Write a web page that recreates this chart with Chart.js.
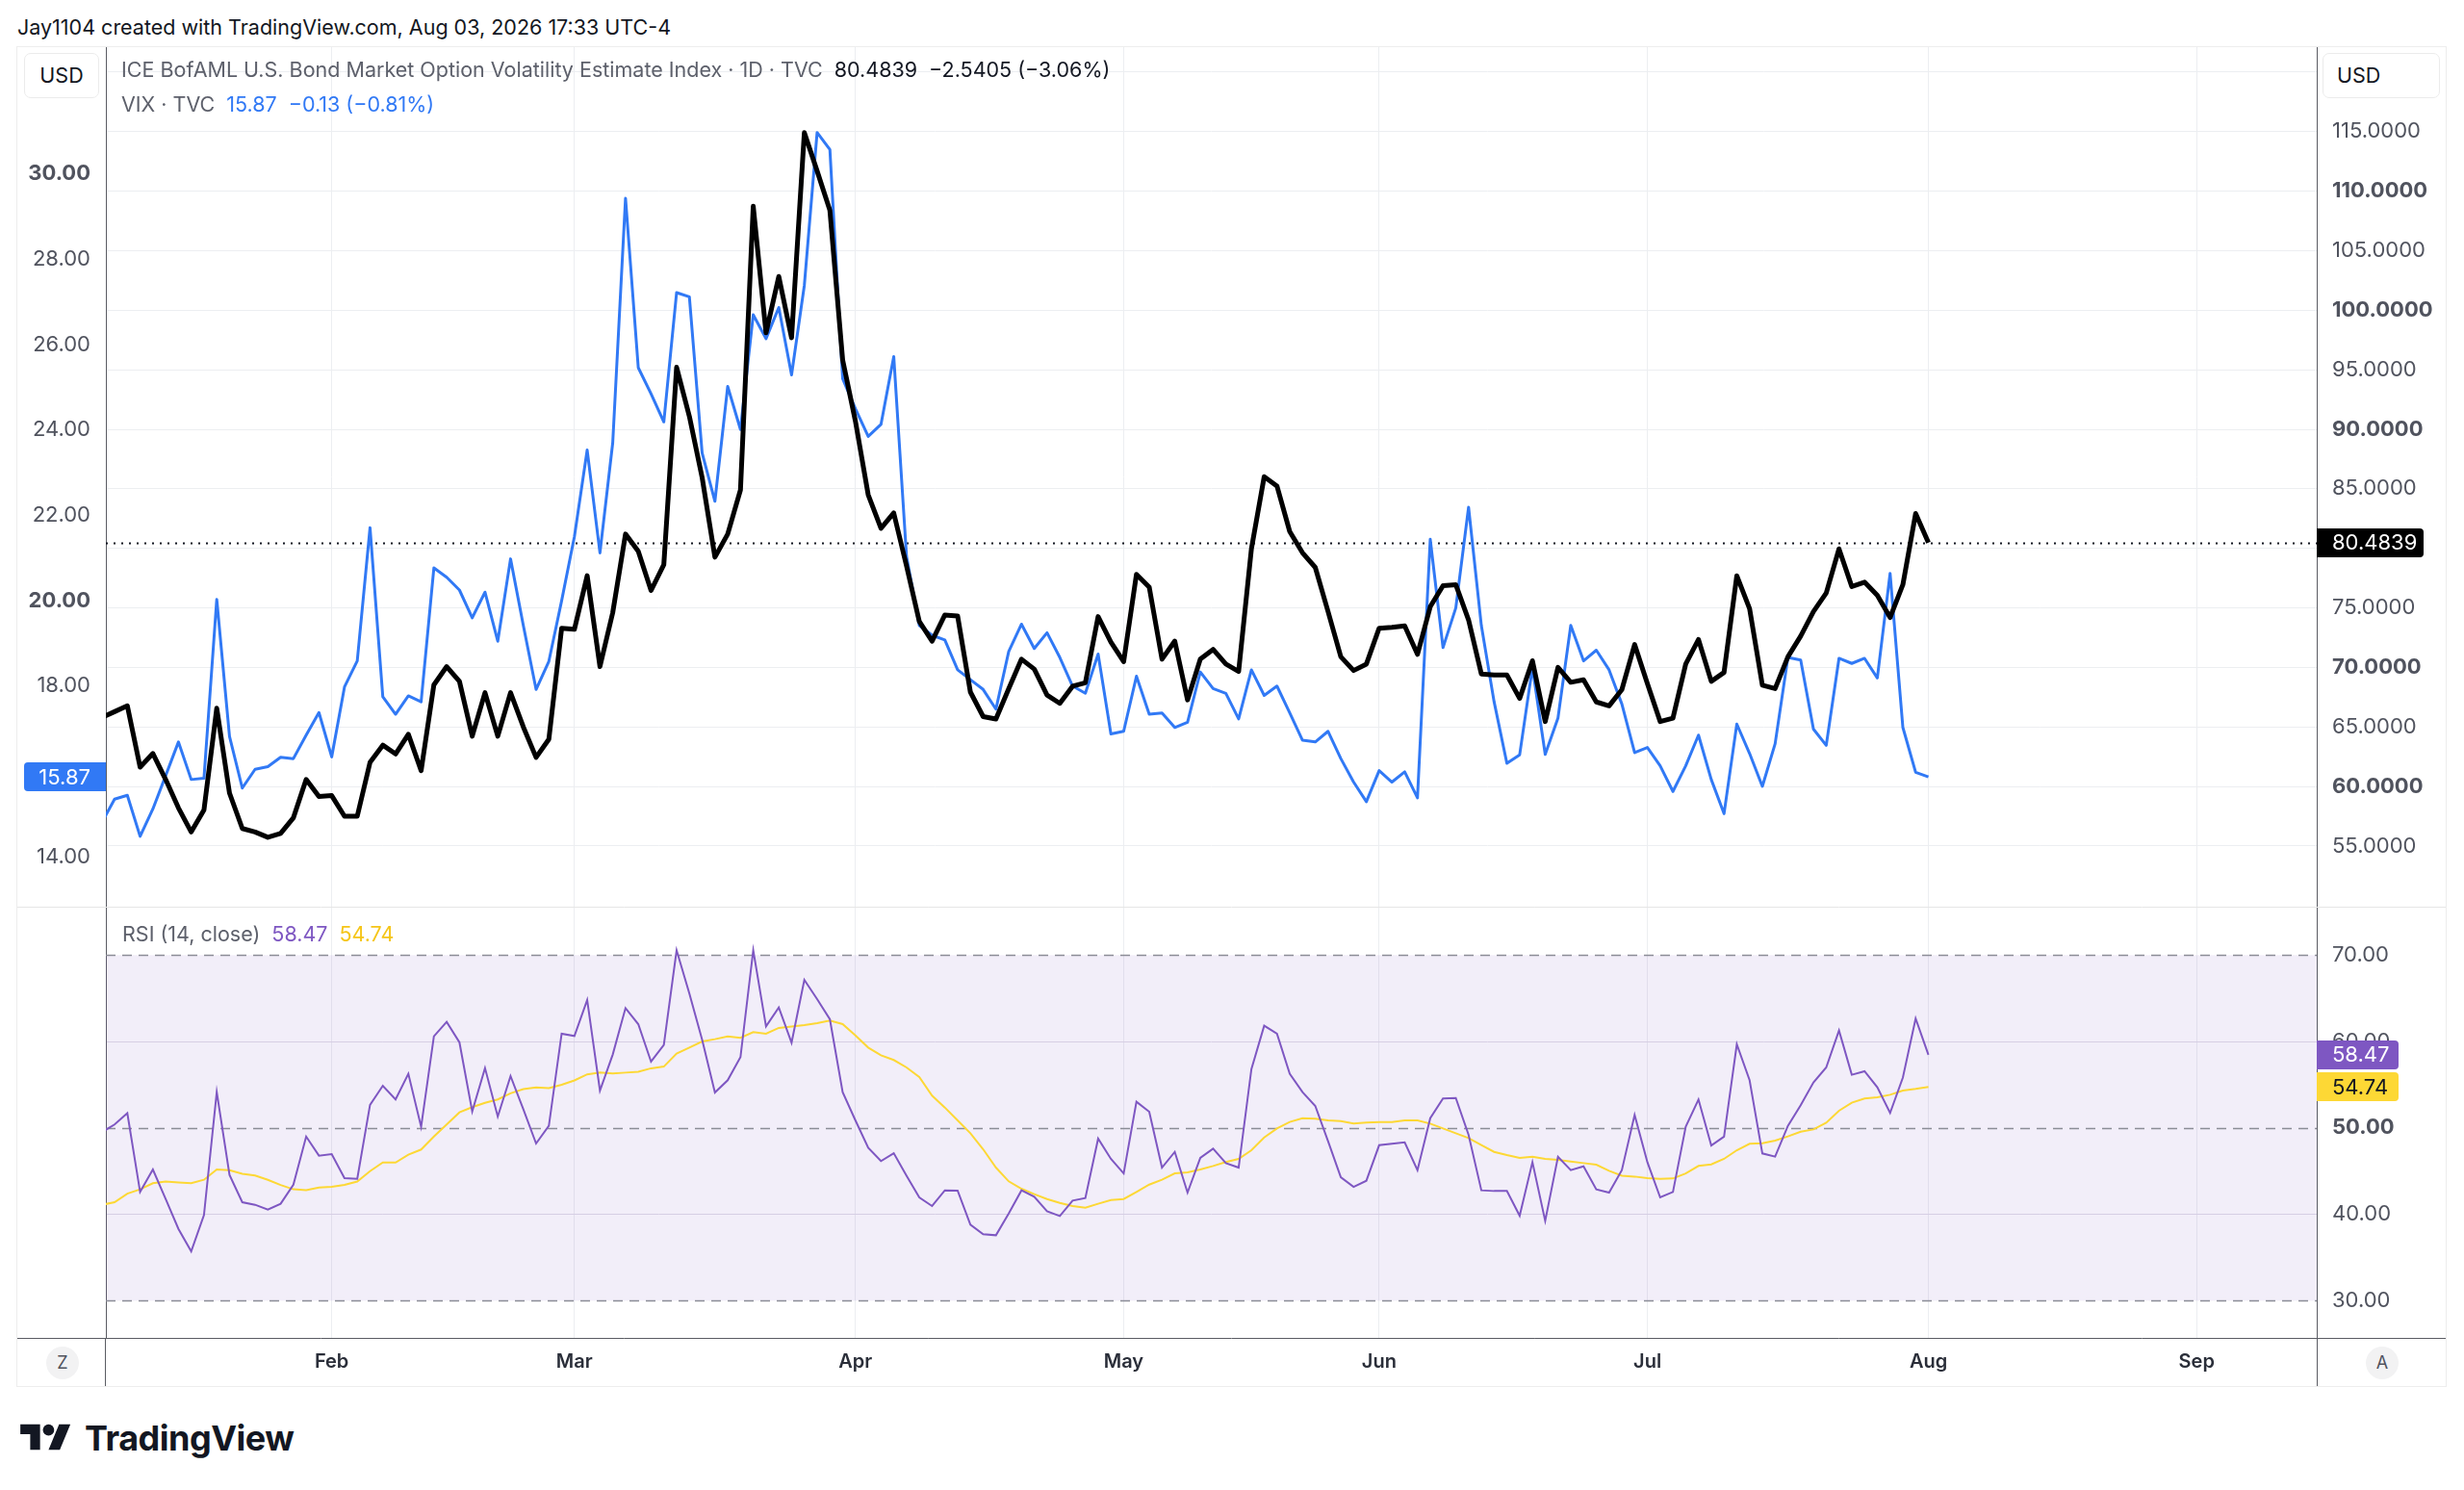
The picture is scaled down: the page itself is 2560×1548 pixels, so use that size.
<!DOCTYPE html>
<html>
<head>
<meta charset="utf-8">
<script src="https://cdn.jsdelivr.net/npm/chart.js@4.4.1/dist/chart.umd.min.js"></script>
<style>
  html, body { margin: 0; padding: 0; background: #fff; }
  body { width: 2560px; height: 1548px; position: relative; overflow: hidden; font-family: Inter, "Noto Sans", sans-serif; color: #131722; }
  .abs { position: absolute; white-space: nowrap; }
  #frame { left: 17px; top: 48px; width: 2525px; height: 1393px; border: 1px solid #ededed; box-sizing: border-box; }
  #cMain { left: 18px; top: 49px; }
  #cRsi { left: 18px; top: 942px; }
  .usd { height: 47px; border: 1px solid #ebebeb; border-radius: 7px; box-sizing: border-box; font-size: 21.5px; line-height: 45px; text-align: center; background: #fff; color: #131722; }
  .leg { font-size: 21.5px; line-height: 28px; color: #5d606b; }
  .leg span { margin-left: 12px; }
  .circ { width: 34px; height: 34px; border-radius: 50%; background: #f2f2f3; color: #50535e; font-size: 18px; line-height: 34px; text-align: center; }
</style>
</head>
<body>
<div class="abs" style="left:18px; top:14px; font-size:21.5px; line-height:28px;">Jay1104 created with TradingView.com, Aug 03, 2026 17:33 UTC-4</div>
<div id="frame" class="abs"></div>
<canvas id="cMain" class="abs" width="2523" height="893"></canvas>
<canvas id="cRsi" class="abs" width="2523" height="498"></canvas>

<div class="abs usd" style="left:25px; top:55px; width:78px;">USD</div>
<div class="abs usd" style="left:2413px; top:55px; width:122px; text-align:left; padding-left:14px;">USD</div>

<div class="abs leg" style="left:126px; top:58px;">ICE BofAML U.S. Bond Market Option Volatility Estimate Index · 1D · TVC<span style="color:#131722">80.4839</span><span style="color:#131722">−2.5405 (−3.06%)</span></div>
<div class="abs leg" style="left:126px; top:94px;">VIX · TVC<span style="color:#3179f5">15.87</span><span style="color:#3179f5">−0.13 (−0.81%)</span></div>
<div class="abs leg" style="left:127px; top:956px;">RSI (14, close)<span style="color:#7e57c2">58.47</span><span style="color:#f5c518">54.74</span></div>

<div class="abs circ" style="left:48px; top:1399px;">Z</div>
<div class="abs circ" style="left:2458px; top:1399px;">A</div>

<svg class="abs" style="left:21px; top:1474px;" width="53" height="41" viewBox="0 0 36 28">
  <path d="M14 22H7V11H0V4h14v18zM28 22h-8l7.5-18h8L28 22z" fill="#131722"/>
  <circle cx="20" cy="8" r="4" fill="#131722"/>
</svg>
<div class="abs" style="left:88px; top:1473px; font-size:36px; line-height:42px; font-weight:700; color:#131722; letter-spacing:-0.5px;">TradingView</div>

<script>
// month starts (bar index of first trading day) and their labels
const monthLabels = ['Feb', 'Mar', 'Apr', 'May', 'Jun', 'Jul', 'Aug', 'Sep'];
const monthStart = [18, 37, 59, 80, 100, 121, 143, 164];

const vixTicks = [14, 16, 18, 20, 22, 24, 26, 28, 30];
const moveTicks = [55, 60, 65, 70, 75, 80, 85, 90, 95, 100, 105, 110, 115, 120];
const rsiTicks = [30, 40, 50, 60, 70];
const rsiBands = [70, 50, 30];

// ICE BofAML MOVE index, daily closes from Jan 6 to Aug 3
const moveIndex = [
  65.8, 66.28, 66.77, 61.62, 62.77, 60.59, 58.2, 56.18, 58.03, 66.57,
  59.44, 56.47, 56.18, 55.73, 56.06, 57.37, 60.59, 59.15, 59.23, 57.5,
  57.5, 62.03, 63.47, 62.73, 64.38, 61.33, 68.54, 70.07, 68.83, 64.22,
  67.88, 64.22, 67.88, 65.0, 62.44, 63.97, 73.29, 73.2, 77.7, 70.07,
  74.6, 81.2, 79.76, 76.46, 78.64, 95.21, 91.09, 85.94, 79.26, 81.2,
  84.91, 108.73, 98.1, 102.84, 97.69, 114.92, 111.7, 108.4, 95.83, 90.68,
  84.5, 81.69, 82.97, 78.52, 73.86, 72.21, 74.4, 74.32, 67.93, 65.87,
  65.66, 68.22, 70.69, 69.86, 67.68, 66.98, 68.42, 68.71, 74.27, 72.13,
  70.48, 77.82, 76.75, 70.69, 72.21, 67.27, 70.69, 71.51, 70.28, 69.66,
  79.96, 86.02, 85.24, 81.41, 79.63, 78.4, 74.69, 70.89, 69.74, 70.28,
  73.29, 73.37, 73.49, 71.1, 75.1, 76.87, 76.95, 73.99, 69.45, 69.37,
  69.37, 67.39, 70.56, 65.45, 70.0, 68.75, 68.96, 67.1, 66.77, 68.13,
  71.92, 68.63, 65.45, 65.74, 70.28, 72.34, 68.83, 69.58, 77.7, 74.93,
  68.5, 68.22, 70.89, 72.63, 74.69, 76.25, 79.96, 76.79, 77.16, 76.05,
  74.19, 76.95, 82.93, 80.4839
];

// CBOE VIX, same days
const vixIndex = [
  14.8, 15.35, 15.44, 14.48, 15.12, 15.9, 16.69, 15.81, 15.84, 20.03,
  16.82, 15.61, 16.05, 16.11, 16.33, 16.3, 16.85, 17.38, 16.34, 17.98,
  18.59, 21.71, 17.75, 17.34, 17.77, 17.63, 20.77, 20.55, 20.25, 19.6,
  20.2, 19.05, 20.98, 19.42, 17.92, 18.58, 20.0, 21.5, 23.53, 21.12,
  23.7, 29.43, 25.46, 24.85, 24.19, 27.22, 27.12, 23.46, 22.33, 25.02,
  24.01, 26.7, 26.14, 26.87, 25.29, 27.39, 30.97, 30.57, 25.2, 24.5,
  23.85, 24.13, 25.72, 21.04, 19.42, 19.19, 19.08, 18.38, 18.15, 17.92,
  17.46, 18.81, 19.45, 18.88, 19.25, 18.67, 18.0, 17.83, 18.75, 16.88,
  16.94, 18.23, 17.34, 17.37, 17.03, 17.15, 18.33, 17.94, 17.83, 17.23,
  18.38, 17.78, 18.0, 17.37, 16.73, 16.69, 16.94, 16.3, 15.75, 15.29,
  16.02, 15.75, 15.99, 15.38, 21.44, 18.9, 19.83, 22.19, 19.42, 17.63,
  16.19, 16.39, 18.44, 16.4, 17.25, 19.42, 18.59, 18.84, 18.38, 17.58,
  16.44, 16.56, 16.13, 15.53, 16.13, 16.85, 15.81, 15.01, 17.11, 16.42,
  15.65, 16.65, 18.67, 18.61, 16.99, 16.61, 18.65, 18.53, 18.65, 18.19,
  20.64, 17.03, 15.98, 15.87
];

// RSI(14) of the MOVE index
const rsiValues = [
  49.5, 50.4, 51.71, 42.59, 45.19, 41.77, 38.32, 35.72, 39.92, 54.14,
  44.56, 41.4, 41.11, 40.55, 41.22, 43.44, 49.0, 46.79, 46.97, 44.19,
  44.11, 52.66, 54.88, 53.29, 56.26, 50.13, 60.6, 62.27, 59.9, 51.91,
  56.93, 51.32, 56.0, 52.17, 48.2, 50.24, 60.9, 60.64, 64.8, 54.33,
  58.49, 63.87, 62.01, 57.67, 59.6, 70.56, 65.54, 60.2, 54.1, 55.52,
  58.19, 70.56, 61.75, 63.95, 59.86, 67.14, 64.91, 62.57, 54.14, 50.87,
  47.71, 46.16, 47.08, 44.48, 41.96, 40.96, 42.78, 42.74, 38.8, 37.69,
  37.58, 40.1, 42.78, 42.03, 40.36, 39.81, 41.59, 41.89, 48.76, 46.42,
  44.74, 53.03, 51.88, 45.41, 47.23, 42.52, 46.53, 47.6, 45.93, 45.41,
  56.82, 61.83, 60.9, 56.26, 54.14, 52.54, 48.46, 44.3, 43.18, 43.89,
  48.0, 48.16, 48.34, 45.11, 51.13, 53.4, 53.47, 49.2, 42.78, 42.7,
  42.7, 39.84, 46.04, 39.24, 46.67, 45.11, 45.56, 42.89, 42.52, 45.11,
  51.5, 46.04, 41.96, 42.59, 50.13, 53.29, 47.97, 49.0, 59.67, 55.52,
  47.05, 46.68, 50.24, 52.62, 55.26, 57.0, 61.27, 56.15, 56.56, 54.7,
  51.73, 55.82, 62.65, 58.47
];

// RSI-based moving average (yellow)
const rsiMa = [
  41.1, 41.4, 42.4, 42.9, 43.6, 43.8, 43.7, 43.6, 44.0, 45.2,
  45.1, 44.7, 44.5, 44.0, 43.4, 42.9, 42.8, 43.1, 43.2, 43.4,
  43.8, 45.0, 46.0, 46.0, 46.9, 47.5, 49.0, 50.4, 51.8, 52.4,
  52.9, 53.3, 54.0, 54.5, 54.7, 54.6, 55.0, 55.5, 56.2, 56.4,
  56.3, 56.4, 56.5, 56.9, 57.1, 58.6, 59.3, 60.0, 60.27, 60.6,
  60.42, 61.08, 60.9, 61.57, 61.72, 61.9, 62.13, 62.42, 62.01, 60.71,
  59.3, 58.41, 57.86, 57.0, 55.89, 53.73, 52.36, 50.87, 49.39, 47.53,
  45.41, 43.82, 42.96, 42.33, 41.77, 41.33, 40.96, 40.77, 41.22, 41.66,
  41.77, 42.59, 43.44, 44.0, 44.74, 44.86, 45.19, 45.6, 46.05, 46.42,
  47.42, 48.9, 49.94, 50.69, 51.13, 51.06, 50.87, 50.8, 50.5, 50.61,
  50.69, 50.69, 50.87, 50.87, 50.5, 49.94, 49.39, 48.83, 48.01, 47.23,
  46.86, 46.53, 46.68, 46.42, 46.3, 46.12, 45.93, 45.75, 45.04, 44.48,
  44.37, 44.19, 44.11, 44.15, 44.74, 45.6, 45.78, 46.42, 47.42, 48.16,
  48.24, 48.54, 49.02, 49.57, 49.83, 50.61, 51.99, 52.92, 53.4, 53.55,
  53.84, 54.33, 54.51, 54.74
];

const X_MIN = 0.32, X_MAX = 173.4;
const GRID = '#eceef1';
const AXIS = '#5a5c63';
const LABEL = '#50535e';
const FONT = 'Inter, "Noto Sans", sans-serif';
const TICK_SIZE = 22;

Chart.defaults.font.family = FONT;
Chart.defaults.font.size = TICK_SIZE;
Chart.defaults.color = LABEL;

function pts(arr) { return arr.map((v, i) => ({ x: i, y: v })); }
function monthTicks(s) { s.ticks = monthStart.map(v => ({ value: v })); }
function monthLabel(v) { const k = monthStart.indexOf(v); return k < 0 ? '' : monthLabels[k]; }
function boldIf(list) {
  return c => ({ family: FONT, size: TICK_SIZE, weight: (c.tick && list.includes(c.tick.value)) ? '700' : '400' });
}
// fixed axis width, and no extra room for half labels at the ends
function fitY(w) {
  return s => { s.width = w; s.paddingTop = 0; s.paddingBottom = 0; };
}

// price tag on an axis; side 'right' = tag sits right of the plot
function tag(ctx, x, yc, w, h, fill, text, color, side) {
  const y = Math.round(yc - h / 2);
  ctx.save();
  ctx.fillStyle = fill;
  ctx.beginPath();
  if (side === 'right') ctx.roundRect(x, y, w, h, [0, 4, 4, 0]);
  else ctx.roundRect(x, y, w, h, [4, 0, 0, 4]);
  ctx.fill();
  ctx.fillStyle = color;
  ctx.font = '400 ' + TICK_SIZE + 'px ' + FONT;
  ctx.textBaseline = 'middle';
  if (side === 'right') { ctx.textAlign = 'left'; ctx.fillText(text, x + 16, yc + 1); }
  else { ctx.textAlign = 'right'; ctx.fillText(text, x + w - 16, yc + 1); }
  ctx.restore();
}

const mainDecor = {
  id: 'mainDecor',
  beforeDatasetsDraw(chart) {
    const { ctx, chartArea: a, scales } = chart;
    const y = Math.round(scales.yMove.getPixelForValue(moveIndex[moveIndex.length - 1])) + 0.5;
    ctx.save();
    ctx.strokeStyle = '#131722';
    ctx.lineWidth = 2;
    ctx.setLineDash([2, 6]);
    ctx.beginPath(); ctx.moveTo(a.left, y); ctx.lineTo(a.right, y); ctx.stroke();
    ctx.restore();
  },
  afterDraw(chart) {
    const { ctx, chartArea: a, scales } = chart;
    const mLast = moveIndex[moveIndex.length - 1];
    const vLast = vixIndex[vixIndex.length - 1];
    tag(ctx, a.right, scales.yMove.getPixelForValue(mLast), 111, 30, '#000', mLast.toFixed(4), '#fff', 'right');
    tag(ctx, 7, scales.yVix.getPixelForValue(vLast), a.left - 7, 30, '#3179f5', vLast.toFixed(2), '#fff', 'left');
  }
};

const rsiDecor = {
  id: 'rsiDecor',
  beforeDatasetsDraw(chart) {
    const { ctx, chartArea: a, scales } = chart;
    const yr = scales.yRsi;
    const top = yr.getPixelForValue(rsiBands[0]);
    const bot = yr.getPixelForValue(rsiBands[rsiBands.length - 1]);
    ctx.save();
    ctx.fillStyle = 'rgba(126,87,194,0.1)';
    ctx.fillRect(a.left, top, a.right - a.left, bot - top);
    ctx.strokeStyle = '#8b8d96';
    ctx.lineWidth = 1.5;
    ctx.setLineDash([10, 7]);
    rsiBands.forEach(v => {
      const y = Math.round(yr.getPixelForValue(v)) + 0.5;
      ctx.beginPath(); ctx.moveTo(a.left, y); ctx.lineTo(a.right, y); ctx.stroke();
    });
    ctx.restore();
  },
  afterDraw(chart) {
    const { ctx, chartArea: a, scales, width, height } = chart;
    const yb = Math.round(a.bottom) + 0.5;
    ctx.save();
    ctx.lineWidth = 1;
    ctx.strokeStyle = '#e6e6e6';
    ctx.beginPath(); ctx.moveTo(0, 0.5); ctx.lineTo(width, 0.5); ctx.stroke();
    ctx.strokeStyle = AXIS;
    ctx.beginPath();
    ctx.moveTo(0, yb); ctx.lineTo(width, yb);
    ctx.moveTo(Math.round(a.left) - 0.5, a.bottom); ctx.lineTo(Math.round(a.left) - 0.5, height);
    ctx.moveTo(Math.round(a.right) + 0.5, a.bottom); ctx.lineTo(Math.round(a.right) + 0.5, height);
    ctx.stroke();
    ctx.restore();
    const yr = scales.yRsi;
    const rLast = rsiValues[rsiValues.length - 1];
    const mLast = rsiMa[rsiMa.length - 1];
    tag(ctx, a.right, yr.getPixelForValue(rLast), 85, 30, '#7e57c2', rLast.toFixed(2), '#fff', 'right');
    tag(ctx, a.right, yr.getPixelForValue(mLast), 85, 30, '#fdd835', mLast.toFixed(2), '#131722', 'right');
  }
};

const xCommon = {
  type: 'linear', min: X_MIN, max: X_MAX,
  afterBuildTicks: monthTicks,
  grid: { color: GRID, drawTicks: false },
  border: { display: false }
};

new Chart(document.getElementById('cMain'), {
  type: 'line',
  data: {
    datasets: [
      { label: 'MOVE', data: pts(moveIndex), yAxisID: 'yMove', order: 0,
        borderColor: '#000', borderWidth: 5, pointRadius: 0, tension: 0, borderJoinStyle: 'round' },
      { label: 'VIX', data: pts(vixIndex), yAxisID: 'yVix', order: 1,
        borderColor: '#3179f5', borderWidth: 3, pointRadius: 0, tension: 0, borderJoinStyle: 'round' }
    ]
  },
  options: {
    responsive: false, animation: false, events: [],
    layout: { padding: 0 },
    plugins: { legend: { display: false }, tooltip: { enabled: false } },
    scales: {
      x: Object.assign({}, xCommon, {
        ticks: { display: false },
        afterFit: s => { s.height = 0; s.paddingLeft = 0; s.paddingRight = 0; }
      }),
      yVix: {
        position: 'left', min: 12.83, max: 32.97,
        afterBuildTicks: s => { s.ticks = vixTicks.map(v => ({ value: v })); },
        ticks: { padding: 16, color: LABEL, font: boldIf([20, 30]), callback: v => v.toFixed(2) },
        grid: { drawOnChartArea: false, drawTicks: false },
        border: { display: true, color: AXIS, width: 1 },
        afterFit: fitY(92)
      },
      yMove: {
        position: 'right', min: 49.9, max: 122.1,
        afterBuildTicks: s => { s.ticks = moveTicks.map(v => ({ value: v })); },
        ticks: { padding: 16, color: LABEL, font: boldIf([60, 70, 80, 90, 100, 110, 120]), callback: v => v.toFixed(4) },
        grid: { color: GRID, drawTicks: false },
        border: { display: true, color: AXIS, width: 1 },
        afterFit: fitY(134)
      }
    }
  },
  plugins: [mainDecor]
});

new Chart(document.getElementById('cRsi'), {
  type: 'line',
  data: {
    datasets: [
      { label: 'RSI-based MA', data: pts(rsiMa), yAxisID: 'yRsi', order: 1,
        borderColor: '#fdd835', borderWidth: 2, pointRadius: 0, tension: 0 },
      { label: 'RSI', data: pts(rsiValues), yAxisID: 'yRsi', order: 0,
        borderColor: '#7e57c2', borderWidth: 2, pointRadius: 0, tension: 0 }
    ]
  },
  options: {
    responsive: false, animation: false, events: [],
    layout: { padding: 0 },
    plugins: { legend: { display: false }, tooltip: { enabled: false } },
    scales: {
      x: Object.assign({}, xCommon, {
        ticks: { display: true, padding: 13, color: '#2a2e39', maxRotation: 0, autoSkip: false,
                 font: { family: FONT, size: 20, weight: '600' }, callback: monthLabel },
        afterFit: s => { s.height = 50; s.paddingLeft = 0; s.paddingRight = 0; }
      }),
      yL: {
        position: 'left', min: 0, max: 1,
        ticks: { display: false },
        grid: { drawOnChartArea: false, drawTicks: false },
        border: { display: true, color: AXIS, width: 1 },
        afterFit: fitY(92)
      },
      yRsi: {
        position: 'right', min: 25.7, max: 75.6,
        afterBuildTicks: s => { s.ticks = rsiTicks.map(v => ({ value: v })); },
        ticks: { padding: 16, color: LABEL, font: boldIf([50]), callback: v => v.toFixed(2) },
        grid: {
          drawTicks: false,
          color: c => (c.tick && (c.tick.value === 40 || c.tick.value === 60)) ? '#e0dce8' : 'rgba(0,0,0,0)'
        },
        border: { display: true, color: AXIS, width: 1 },
        afterFit: fitY(134)
      }
    }
  },
  plugins: [rsiDecor]
});
</script>
</body>
</html>
